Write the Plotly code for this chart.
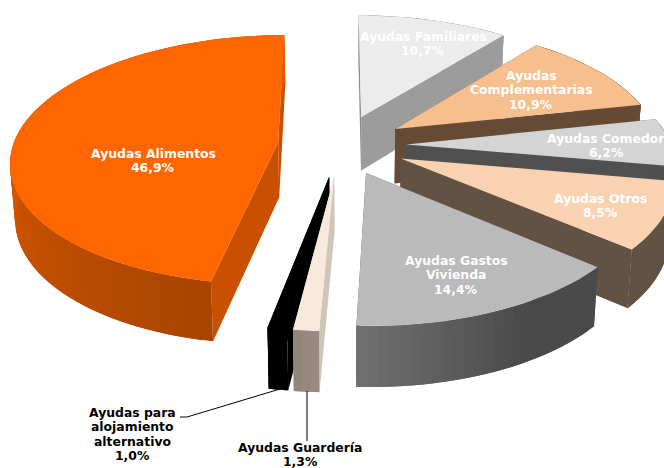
import numpy as np
import plotly.graph_objects as go

categories = ["Ayudas Familiares", "Ayudas Complementarias", "Ayudas Comedor", "Ayudas Otros",
              "Ayudas Gastos Vivienda", "Ayudas Guardería", "Ayudas para alojamiento alternativo",
              "Ayudas Alimentos"]
values = [10.7, 10.9, 6.2, 8.5, 14.4, 1.3, 1.0, 46.9]
explode = [0.25, 0.25, 0.25, 0.25, 0.24, 0.25, 0.25, 0.235]

# styling per slice: top colour, start-radial face, end-radial face, arc wall stops (angle, rgb)
styles = [
    ("#ececec", "#8c8c8c", "#9c9c9c", [(0, (156, 156, 156))]),
    ("#f6bf8d", "#654a35", "#654a35", [(0, (101, 74, 53))]),
    ("#d4d4d4", "#505050", "#505050", [(0, (80, 80, 80))]),
    ("#f9d2b2", "#625244", "#625244", [(0, (98, 82, 68))]),
    ("#bababa", "#4a4a4a", "#4a4a4a", [(150, (74, 74, 74)), (182, (112, 112, 112))]),
    ("#f9e9dc", "#d0c5b9", "#d0c5b9", [(183, (152, 140, 130)), (187, (146, 134, 122))]),
    ("#000000", "#000000", "#000000", [(0, (0, 0, 0))]),
    ("#ff6600", "#c85000", "#c85000", [(190, (168, 69, 0)), (280, (220, 90, 0))]),
]
draw_order = [0, 7, 1, 2, 3, 4, 6, 5]

CX, CY, SX, SY, P = 340.0, 145.0, 265.0, 123.0, 0.14
W, H = 664, 468


def project(X, Y):
    s = 1 / (1 + P * Y)
    return CX + SX * X * s, CY - SY * Y * s


def lower(X, Y):
    x, y = project(X, Y)
    return 350 + (x - 350) * 0.985, y + 55 - 5 * Y


fig = go.Figure()


def poly(xs, ys, color):
    fig.add_trace(go.Scatter(x=list(xs), y=list(ys), mode="lines", fill="toself", fillcolor=color,
                             line=dict(width=0), hoverinfo="skip", showlegend=False))


edges = np.concatenate([[0], np.cumsum(values)]) * 3.6
for i in draw_order:
    a0, a1 = np.radians(edges[i]), np.radians(edges[i + 1])
    mid = (a0 + a1) / 2
    X0, Y0 = explode[i] * np.sin(mid), explode[i] * np.cos(mid)
    ang = np.linspace(a0, a1, max(3, int((edges[i + 1] - edges[i]) / 2) + 2))
    Xa, Ya = X0 + np.sin(ang), Y0 + np.cos(ang)
    top_c, f0, f1, stops = styles[i]
    # radial faces
    for a, face in ((a0, f0), (a1, f1)):
        Xe, Ye = X0 + np.sin(a), Y0 + np.cos(a)
        t1, t2 = project(X0, Y0), project(Xe, Ye)
        b1, b2 = lower(X0, Y0), lower(Xe, Ye)
        poly([t1[0], t2[0], b2[0], b1[0]], [t1[1], t2[1], b2[1], b1[1]], face)
    # outer wall, shaded by angle; each band overlaps the next one to avoid seams
    sa = [s[0] for s in stops]
    for k in range(len(ang) - 1):
        deg = np.degrees((ang[k] + ang[k + 1]) / 2)
        rgb = [int(np.interp(deg, sa, [s[1][c] for s in stops])) for c in range(3)]
        col = "rgb(%d,%d,%d)" % tuple(rgb)
        e = min(k + 2, len(ang) - 1)
        t1, t2 = project(Xa[k], Ya[k]), project(Xa[e], Ya[e])
        b1, b2 = lower(Xa[k], Ya[k]), lower(Xa[e], Ya[e])
        poly([t1[0], t2[0], b2[0], b1[0]], [t1[1], t2[1], b2[1], b1[1]], col)
    # top face
    px, py = project(np.r_[X0, Xa], np.r_[Y0, Ya])
    poly(px, py, top_c)

# leader lines
for lx, ly in (([280, 187, 180], [389, 417, 417]), ([307, 307], [391, 441])):
    fig.add_trace(go.Scatter(x=lx, y=ly, mode="lines", line=dict(color="#000000", width=1),
                             hoverinfo="skip", showlegend=False))

# labels: centre x, first-line y, wrapped lines, colour
label_layout = [
    (423, 36, ["Ayudas Familiares"], "#ffffff"),
    (531, 75, ["Ayudas", "Complementarias"], "#ffffff"),
    (606, 138, ["Ayudas Comedor"], "#ffffff"),
    (600, 198, ["Ayudas Otros"], "#ffffff"),
    (456, 260, ["Ayudas Gastos", "Vivienda"], "#ffffff"),
    (300, 447, ["Ayudas Guardería"], "#000000"),
    (132, 412, ["Ayudas para", "alojamiento", "alternativo"], "#000000"),
    (153, 153, ["Ayudas Alimentos"], "#ffffff"),
]
LINE = 14.6
for v, (lx, ly, lines, col) in zip(values, label_layout):
    for j, t in enumerate(lines + [f"{v:.1f}%".replace(".", ",")]):
        fig.add_annotation(x=lx, y=ly + j * LINE, text=f"<b>{t}</b>", showarrow=False,
                           xanchor="center", yanchor="middle",
                           font=dict(family="DejaVu Sans", size=12.4, color=col))

fig.update_layout(width=W, height=H, margin=dict(l=0, r=0, t=0, b=0), paper_bgcolor="white",
                  plot_bgcolor="white", showlegend=False,
                  xaxis=dict(range=[0, W], visible=False, fixedrange=True),
                  yaxis=dict(range=[H, 0], visible=False, fixedrange=True))
fig.write_html("out.html", config={"displayModeBar": False},
               post_script="document.body.style.margin='0';document.body.style.overflow='hidden';")
